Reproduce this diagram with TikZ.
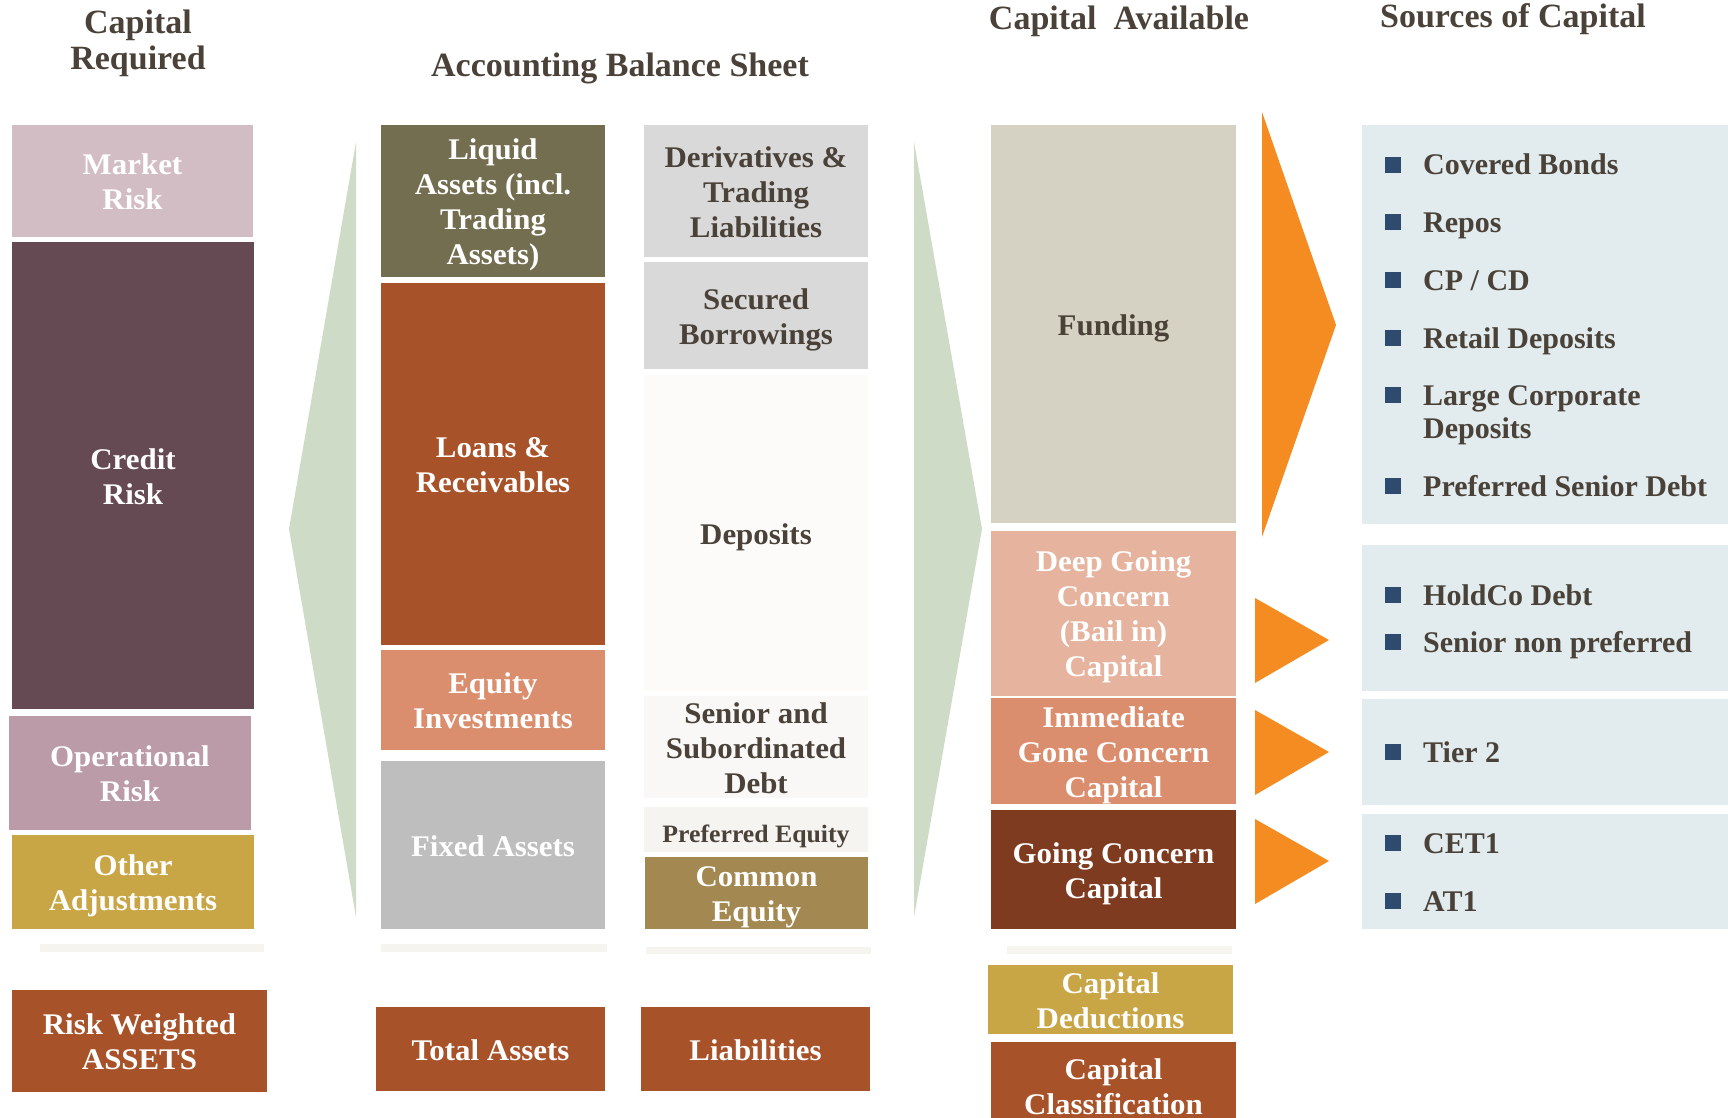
\documentclass[tikz,border=0pt]{standalone}
\usepackage{fontspec}
\setmainfont{Liberation Serif}
\newfontfamily\lblserif[FakeStretch=1.03]{Liberation Serif}
\definecolor{txtdark}{HTML}{4A4239}
\definecolor{mktrisk}{HTML}{D2BDC4}
\definecolor{credrisk}{HTML}{654A53}
\definecolor{oprisk}{HTML}{BB9BA8}
\definecolor{gold}{HTML}{C9A645}
\definecolor{rust}{HTML}{A8522A}
\definecolor{olive}{HTML}{736E50}
\definecolor{salmon}{HTML}{DB8E6E}
\definecolor{fixgray}{HTML}{BEBEBE}
\definecolor{liggray}{HTML}{D9D9D9}
\definecolor{depo}{HTML}{FCFBF9}
\definecolor{subdebt}{HTML}{F9F8F6}
\definecolor{prefeq}{HTML}{F5F4F0}
\definecolor{comeq}{HTML}{A38851}
\definecolor{funding}{HTML}{D6D2C3}
\definecolor{peach}{HTML}{E6B49E}
\definecolor{brown}{HTML}{7E3B20}
\definecolor{srcbg}{HTML}{E2ECEF}
\definecolor{bulblue}{HTML}{2E4A6E}
\definecolor{orng}{HTML}{F48C22}
\definecolor{sage}{HTML}{CEDBC7}
\definecolor{rule}{HTML}{F5F4EF}
\newcommand{\lblfont}{\lblserif\fontsize{30}{35}\selectfont\bfseries}
\newcommand{\ttlfont}{\fontsize{34}{36}\selectfont\bfseries}
\newcommand{\itmfont}{\fontsize{30}{34}\selectfont\bfseries}
\begin{document}
\begin{tikzpicture}[x=1pt,y=-1pt,line join=round,
	blk/.style={inner sep=0pt,outer sep=0pt,align=center,text=white,font=\lblfont},
	% fixed text box per number of lines, so labels sit alike with or without descenders
	ln1/.style={text height=22.5pt,text depth=0pt},
	ln2/.style={text height=57.5pt,text depth=0pt},
	ln3/.style={text height=92.5pt,text depth=0pt},
	ln4/.style={text height=127.5pt,text depth=0pt},
	dk/.style={text=txtdark},
	ttl/.style={inner sep=0pt,align=center,text=txtdark,font=\ttlfont},
	itm/.style={inner sep=0pt,anchor=base west,text=txtdark,font=\itmfont},
	bul/.style={fill=bulblue,minimum size=16pt,inner sep=0pt}]
	\useasboundingbox (0,0) rectangle (1728,1118);
	\clip (0,0) rectangle (1728,1118);
	% headings
	\node[ttl] (hreq) at (138,43) {Capital\\Required};
	\node[ttl,anchor=base] (hbal) at (620,77) {Accounting Balance Sheet};
	\node[ttl,anchor=base] (havl) at (1119,30) {Capital\ \ Available};
	\node[ttl,anchor=base] (hsrc) at (1513,28) {Sources of Capital};
	% capital required
	\node[blk,ln2,fill=mktrisk,minimum width=241,minimum height=112] (mkt) at (132.5,181) {Market\\Risk};
	\node[blk,ln2,fill=credrisk,minimum width=242,minimum height=467] (cred) at (133,475.5) {Credit\\Risk};
	\node[blk,ln2,fill=oprisk,minimum width=242,minimum height=114] (oper) at (130,773) {Operational\\Risk};
	\node[blk,ln2,fill=gold,minimum width=242,minimum height=94] (oadj) at (133,882) {Other\\Adjustments};
	\fill[rule] (40,944) rectangle (264,952);
	\node[blk,ln2,fill=rust,minimum width=255,minimum height=102] (rwa) at (139.5,1041) {Risk Weighted\\ASSETS};
	\fill[sage] (289,529) -- (356,142) -- (356,917) -- cycle;
	% assets
	\node[blk,ln4,fill=olive,minimum width=224,minimum height=152] (liq) at (493,201) {Liquid\\Assets (incl.\\Trading\\Assets)};
	\node[blk,ln2,fill=rust,minimum width=224,minimum height=362] (loan) at (493,464) {Loans \&\\Receivables};
	\node[blk,ln2,fill=salmon,minimum width=224,minimum height=100] (eqinv) at (493,700) {Equity\\Investments};
	\node[blk,ln1,fill=fixgray,minimum width=224,minimum height=168] (fix) at (493,845) {Fixed Assets};
	\fill[rule] (381,944) rectangle (607,952);
	\node[blk,ln1,fill=rust,minimum width=229,minimum height=84] (tot) at (490.5,1049) {Total Assets};
	% liabilities
	\node[blk,ln3,dk,fill=liggray,minimum width=224,minimum height=132] (deriv) at (756,191) {Derivatives \&\\Trading\\Liabilities};
	\node[blk,ln2,dk,fill=liggray,minimum width=224,minimum height=107] (secb) at (756,315.5) {Secured\\Borrowings};
	\node[blk,ln1,dk,fill=depo,minimum width=224,minimum height=316] (dep) at (756,533) {Deposits};
	\node[blk,ln3,dk,fill=subdebt,minimum width=224,minimum height=102] (sub) at (756,747) {Senior and\\Subordinated\\Debt};
	\node[blk,dk,fill=prefeq,minimum width=224,minimum height=45,font=\lblserif\fontsize{25}{30}\selectfont\bfseries,
		text height=25pt,text depth=0pt] (pref) at (756,829.5) {Preferred Equity};
	\node[blk,ln2,fill=comeq,minimum width=223,minimum height=72] (com) at (756.5,893) {Common\\Equity};
	\fill[rule] (646,947) rectangle (871,954);
	\node[blk,ln1,fill=rust,minimum width=229,minimum height=84] (liab) at (755.5,1049) {Liabilities};
	\fill[sage] (914,142) -- (982,529) -- (914,917) -- cycle;
	% capital available
	\node[blk,ln1,dk,fill=funding,minimum width=245,minimum height=398] (fund) at (1113.5,324) {Funding};
	\node[blk,ln4,fill=peach,minimum width=245,minimum height=165] (deep) at (1113.5,613) {Deep Going\\Concern\\(Bail in)\\Capital};
	\node[blk,ln3,fill=salmon,minimum width=245,minimum height=106] (gone) at (1113.5,751) {Immediate\\Gone Concern\\Capital};
	\node[blk,ln2,fill=brown,minimum width=245,minimum height=119] (going) at (1113.5,869.5) {Going Concern\\Capital};
	\fill[rule] (1007,946) rectangle (1232,954);
	\node[blk,ln2,fill=gold,minimum width=245,minimum height=69] (ded) at (1110.5,999.5) {Capital\\Deductions};
	\node[blk,ln2,fill=rust,minimum width=245,minimum height=88] (cls) at (1113.5,1086) {Capital\\Classification};
	% arrows into sources
	\fill[orng] (1262,112) -- (1336,325) -- (1262,537) -- cycle;
	\foreach \yt in {598,710,819}
		\fill[orng] (1255,\yt) -- (1329,\yt+42) -- (1255,\yt+85) -- cycle;
	% sources of capital
	\fill[srcbg] (1362,125) rectangle (1728,524);
	\fill[srcbg] (1362,545) rectangle (1728,691);
	\fill[srcbg] (1362,699) rectangle (1728,805);
	\fill[srcbg] (1362,814) rectangle (1728,929);
	\foreach \yb/\txt [count=\i] in {175/Covered Bonds, 232/Repos, 290/{CP / CD}, 348/Retail Deposits, 405/Large Corporate, 496/Preferred Senior Debt, 605/HoldCo Debt, 652/Senior non preferred, 762/Tier 2, 853/CET1, 911/AT1}{
		\node[bul] (b\i) at (1392.5,\yb-10) {};
		\node[itm] (s\i) at (1423,\yb) {\txt};
	}
	\node[itm] (s5b) at (1423,438) {Deposits};
\end{tikzpicture}
\end{document}
